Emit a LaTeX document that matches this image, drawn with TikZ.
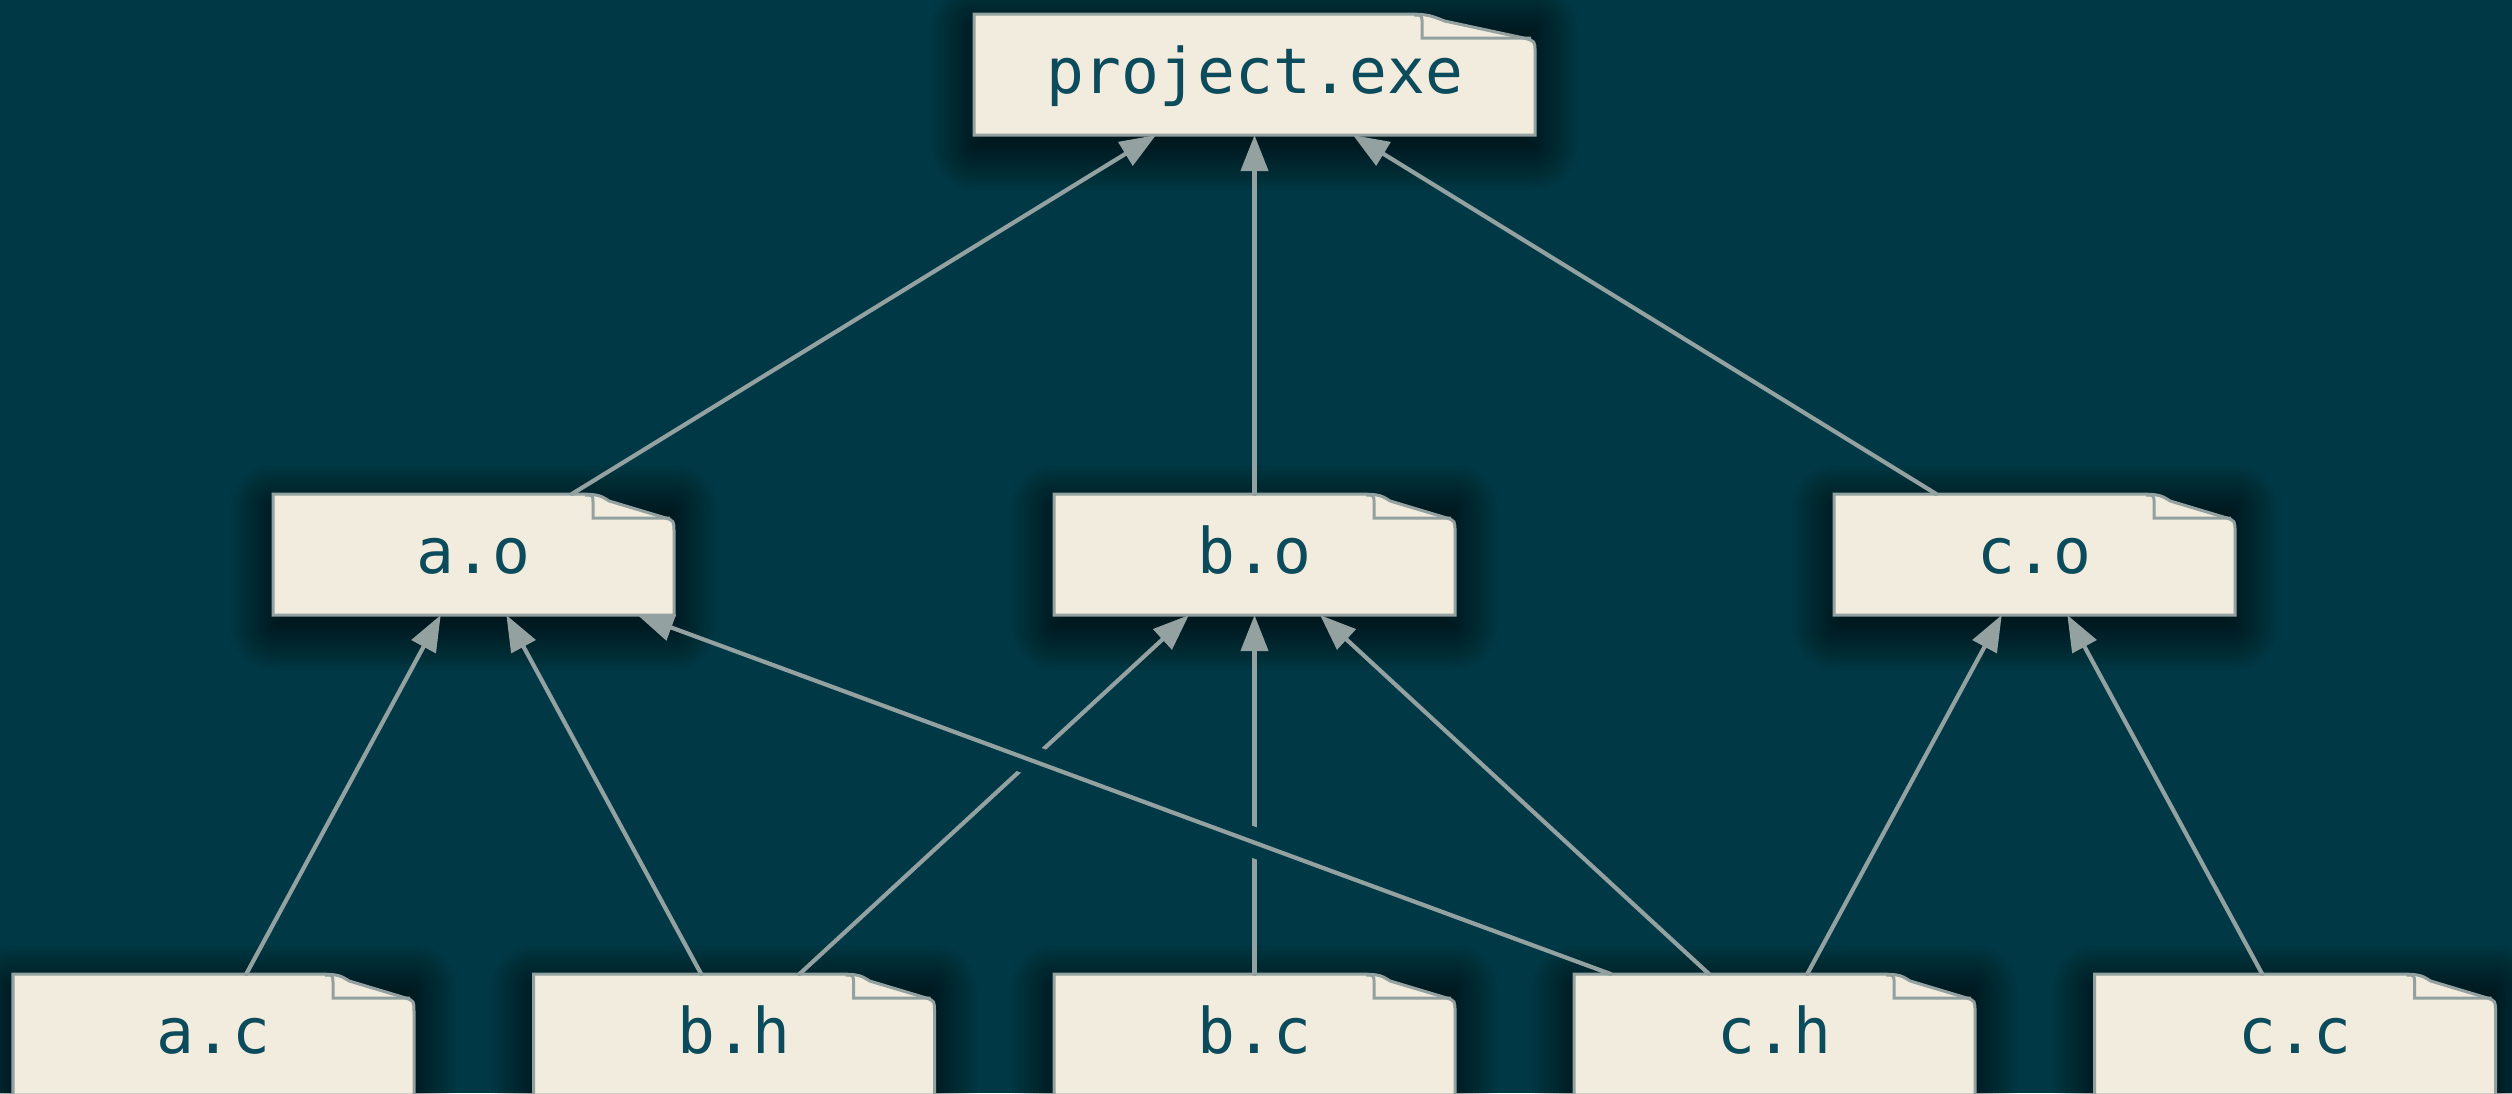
\documentclass[tikz,border=0pt]{standalone}
\usepackage{fontspec}
\setmonofont{DejaVu Sans Mono}
\usetikzlibrary{arrows.meta}

\definecolor{bgc}{HTML}{013845}
\definecolor{cardfill}{HTML}{F1ECDD}
\definecolor{cardline}{HTML}{93A1A1}
\definecolor{edgec}{HTML}{93A1A1}
\definecolor{labelc}{HTML}{0B4B5B}

\tikzset{
  file/.style={minimum width=4.01cm, minimum height=1.21cm, inner sep=0pt,
    outer sep=0pt, text=labelc, font=\ttfamily\fontsize{17.9pt}{20pt}\selectfont,
    text height=0.47cm, text depth=0.10cm},
  wide/.style={minimum width=5.61cm},
  edge/.style={draw=edgec, line width=0.042cm, line cap=round,
    -{Triangle[length=0.36cm,width=0.27cm]}},
  cardshape/.style={draw=cardline, line width=0.03cm, fill=cardfill},
  foldline/.style={draw=cardline, line width=0.03cm},
  shadowstep/.style={fill=black, opacity=0.036},
  gap/.style={draw=bgc, line width=0.3cm, shorten <=3cm, shorten >=3cm}
}

% file card centred at (#1,#2), width #3, fold width #4 (picture units)
\newcommand\card[4]{%
  \pgfmathsetmacro\cL{#1-#3/2}%
  \pgfmathsetmacro\cR{#1+#3/2}%
  \pgfmathsetmacro\cT{#2-60.5}%
  \pgfmathsetmacro\cB{#2+60.5}%
  % soft drop shadow built from stacked translucent rectangles
  \foreach \i in {-3,...,14} {%
    \pgfmathsetmacro\s{3*\i}%
    \pgfmathsetmacro\rr{max(0.85*\i+0.5,0.5)}%
    \fill[shadowstep, rounded corners=\rr pt]
       (\cL-\s,\cT-\s+13) rectangle (\cR+\s,\cB+\s+13);}
  \path[cardshape] (\cL,\cB) -- (\cL,\cT) -- (\cR-#4-30,\cT)
      .. controls (\cR-#4+5,\cT) .. (\cR-0.8*#4,\cT+7)
      -- (\cR-0.1*#4,\cT+24)
      .. controls (\cR,\cT+27) .. (\cR,\cT+38)
      -- (\cR,\cB) -- cycle;
  \path[foldline] (\cR-#4-8,\cT+1) .. controls (\cR-#4,\cT+1) ..
      (\cR-#4,\cT+9) -- (\cR-#4,\cT+24) -- (\cR-4,\cT+24);
}

\begin{document}
\begin{tikzpicture}[x=0.01cm, y=-0.01cm]
  \useasboundingbox (0,0) rectangle (2512,1093);
  \clip (0,0) rectangle (2512,1093);
  \fill[bgc] (0,0) rectangle (2512,1093);

  % card outlines with their shadows
  \card{1254.5}{74.5}{561}{113}
  \card{473.5}{554.5}{401}{81}
  \card{1254.5}{554.5}{401}{81}
  \card{2034.5}{554.5}{401}{81}
  \card{213.5}{1034.5}{401}{81}
  \card{734}{1034.5}{401}{81}
  \card{1254.5}{1034.5}{401}{81}
  \card{1774.5}{1034.5}{401}{81}
  \card{2295}{1034.5}{401}{81}

  % build product
  \node[file, wide] (exe) at (1254.5,74.5) {project.exe};
  % object files
  \node[file] (ao) at (473.5,554.5)  {a.o};
  \node[file] (bo) at (1254.5,554.5) {b.o};
  \node[file] (co) at (2034.5,554.5) {c.o};
  % sources and headers
  \node[file] (ac) at (213.5,1034.5)  {a.c};
  \node[file] (bh) at (734,1034.5)    {b.h};
  \node[file] (bc) at (1254.5,1034.5) {b.c};
  \node[file] (ch) at (1774.5,1034.5) {c.h};
  \node[file] (cc) at (2295,1034.5)   {c.c};

  % dependencies
  \draw[edge] (ao) -- (exe);
  \draw[edge] (bo) -- (exe);
  \draw[edge] (co) -- (exe);
  \draw[edge] (ac) -- (ao);
  \draw[edge] (bh) -- (ao);
  \draw[edge] (bh) -- (bo);
  \draw[edge] (bc) -- (bo);
  \draw[edge] (ch) -- (bo);
  \draw[edge] (ch) -- (co);
  \draw[edge] (cc) -- (co);
  % long edge passes over the others, leaving a gap in them
  \draw[gap] (ch) -- (ao);
  \draw[edge] (ch) -- (ao);
\end{tikzpicture}
\end{document}
